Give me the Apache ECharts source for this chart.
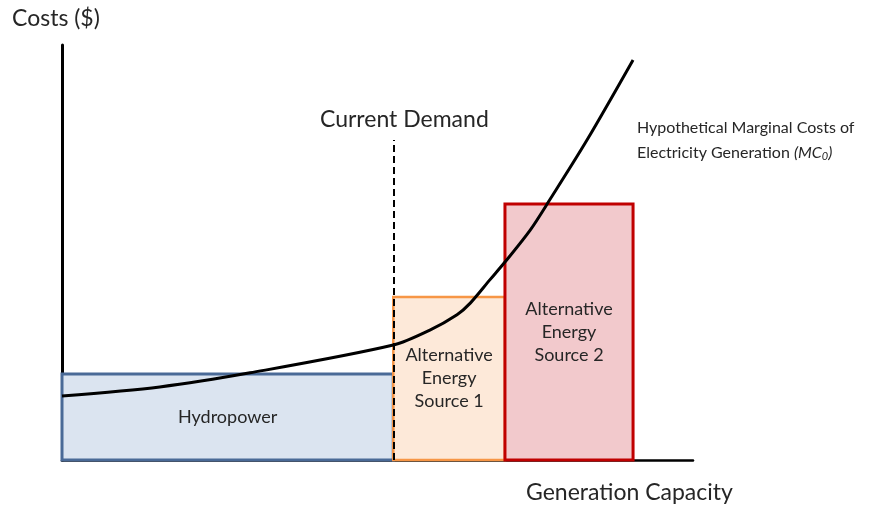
<!DOCTYPE html>
<html>
<head>
<meta charset="utf-8">
<script src="https://cdn.jsdelivr.net/npm/echarts@6/dist/echarts.min.js"></script>
<style>
  html, body { margin: 0; padding: 0; background: #fff; }
  #chart { width: 893px; height: 507px; }
</style>
</head>
<body>
<div id="chart"></div>
<script>
// marginal cost curve (arbitrary units, 0-100 on both axes)
const curveX = [0, 15.5, 29.8, 52.5, 58.3, 62.6, 64.7, 67.8, 70.2, 74.2, 77.3, 83.2, 90.5];
const curveY = [15.4, 17.6, 21.0, 27.7, 31.3, 35.0, 37.8, 43.4, 47.7, 55.4, 62.7, 77.1, 96.4];

// generation sources
const sourceNames = ['Hydropower', 'Alternative\nEnergy\nSource 1', 'Alternative\nEnergy\nSource 2'];
const sourceStart = [0, 52.5, 70.2];
const sourceEnd = [52.5, 70.2, 90.5];
const sourceCost = [20.7, 39.3, 61.7];
const fills = ['#dbe4f0', '#fde9d9', '#f2c9cc'];
const borders = ['#4a6a97', '#f79646', '#c00000'];

const demandX = 52.5;
const demandTop = 77.1;

const font = 'Lato, "Open Sans", sans-serif';
const textColor = '#262626';

const chart = echarts.init(document.getElementById('chart'));

const areas = sourceNames.map((name, i) => [
  {
    name: name,
    coord: [sourceStart[i], 0],
    itemStyle: { color: fills[i], borderColor: borders[i], borderWidth: i === 1 ? 2.5 : 3 },
    label: {
      show: true,
      position: 'inside',
      color: textColor,
      fontFamily: font,
      fontSize: 18,
      lineHeight: 23,
      align: 'center'
    }
  },
  { coord: [sourceEnd[i], sourceCost[i]] }
]);

const option = {
  animation: false,
  grid: { left: 62, top: 45, right: 200, bottom: 47 },
  xAxis: {
    type: 'value', min: 0, max: 100,
    axisLine: { show: true, lineStyle: { color: '#000', width: 2.5 } },
    axisTick: { show: false }, axisLabel: { show: false }, splitLine: { show: false }
  },
  yAxis: {
    type: 'value', min: 0, max: 100,
    axisLine: { show: true, lineStyle: { color: '#000', width: 3 } },
    axisTick: { show: false }, axisLabel: { show: false }, splitLine: { show: false }
  },
  series: [
    {
      type: 'line',
      data: [],
      z: 1,
      markArea: { silent: true, data: areas }
    },
    {
      type: 'line',
      z: 5,
      data: curveX.map((x, i) => [x, curveY[i]]),
      smooth: 0.3,
      symbol: 'none',
      lineStyle: { color: '#000', width: 3 },
      markLine: {
        silent: true,
        symbol: 'none',
        lineStyle: { color: '#000', type: [7, 4], width: 2 },
        label: { show: false },
        data: [[{ coord: [demandX, 0] }, { coord: [demandX, demandTop] }]]
      }
    }
  ],
  graphic: [
    {
      type: 'text', left: 12, top: 7,
      style: { text: 'Costs ($)', fill: textColor, font: '23px ' + font }
    },
    {
      type: 'text', left: 320, top: 108,
      style: { text: 'Current Demand', fill: textColor, font: '23px ' + font }
    },
    {
      type: 'text', left: 526, top: 481,
      style: { text: 'Generation Capacity', fill: textColor, font: '23px ' + font }
    },
    {
      type: 'text', left: 637, top: 115,
      style: {
        text: 'Hypothetical Marginal Costs of\nElectricity Generation {i|(MC}{s|0}{i|)}',
        fill: textColor, fontFamily: font, fontSize: 16, lineHeight: 25,
        rich: {
          i: { fontStyle: 'italic', fontFamily: font, fontSize: 16, fill: textColor },
          s: { fontStyle: 'italic', fontFamily: font, fontSize: 11, fill: textColor, padding: [8, 0, 0, 0] }
        }
      }
    }
  ]
};

chart.setOption(option);
window.addEventListener('resize', () => chart.resize());
</script>
</body>
</html>
